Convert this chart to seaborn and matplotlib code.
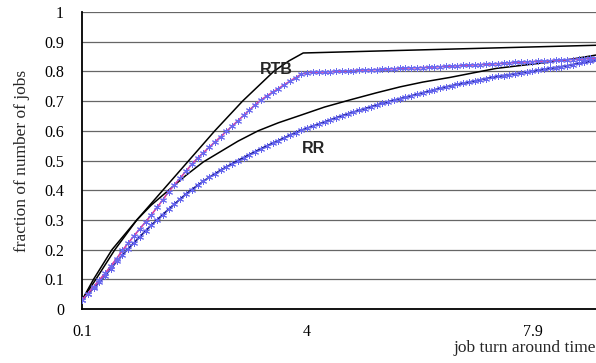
import matplotlib
matplotlib.use("Agg")
import matplotlib.pyplot as plt
import seaborn as sns

# job turn around time categories (step 0.1)
turnaround = [
    0.1, 0.2, 0.3, 0.4, 0.5, 0.6, 0.7, 0.8, 0.9, 1.0,
    1.1, 1.2, 1.3, 1.4, 1.5, 1.6, 1.7, 1.8, 1.9, 2.0,
    2.1, 2.2, 2.3, 2.4, 2.5, 2.6, 2.7, 2.8, 2.9, 3.0,
    3.1, 3.2, 3.3, 3.4, 3.5, 3.6, 3.7, 3.8, 3.9, 4.0,
    4.1, 4.2, 4.3, 4.4, 4.5, 4.6, 4.7, 4.8, 4.9, 5.0,
    5.1, 5.2, 5.3, 5.4, 5.5, 5.6, 5.7, 5.8, 5.9, 6.0,
    6.1, 6.2, 6.3, 6.4, 6.5, 6.6, 6.7, 6.8, 6.9, 7.0,
    7.1, 7.2, 7.3, 7.4, 7.5, 7.6, 7.7, 7.8, 7.9, 8.0,
    8.1, 8.2, 8.3, 8.4, 8.5, 8.6, 8.7, 8.8, 8.9, 9.0,
]

# RTB simulated (marked series)
rtb_sim = [
    0.030, 0.052, 0.075, 0.098, 0.120, 0.145, 0.170, 0.197, 0.222, 0.246,
    0.270, 0.293, 0.317, 0.342, 0.368, 0.395, 0.418, 0.441, 0.464, 0.487,
    0.508, 0.526, 0.544, 0.562, 0.580, 0.598, 0.616, 0.634, 0.652, 0.670,
    0.688, 0.704, 0.717, 0.730, 0.742, 0.755, 0.767, 0.779, 0.791, 0.796,
    0.797, 0.798, 0.798, 0.799, 0.800, 0.801, 0.802, 0.803, 0.804, 0.805,
    0.805, 0.806, 0.807, 0.808, 0.809, 0.810, 0.811, 0.812, 0.812, 0.813,
    0.814, 0.815, 0.816, 0.817, 0.818, 0.819, 0.820, 0.821, 0.822, 0.823,
    0.824, 0.825, 0.826, 0.828, 0.829, 0.830, 0.831, 0.832, 0.833, 0.834,
    0.835, 0.836, 0.837, 0.838, 0.839, 0.840, 0.841, 0.842, 0.844, 0.845,
]

# RR simulated (marked series)
rr_sim = [
    0.030, 0.050, 0.070, 0.090, 0.112, 0.136, 0.160, 0.182, 0.203, 0.223,
    0.243, 0.263, 0.282, 0.300, 0.318, 0.336, 0.353, 0.370, 0.387, 0.402,
    0.416, 0.430, 0.443, 0.455, 0.467, 0.478, 0.489, 0.500, 0.510, 0.520,
    0.530, 0.540, 0.549, 0.558, 0.567, 0.576, 0.585, 0.594, 0.602, 0.609,
    0.616, 0.623, 0.630, 0.637, 0.644, 0.651, 0.657, 0.663, 0.669, 0.675,
    0.681, 0.687, 0.692, 0.698, 0.703, 0.708, 0.713, 0.718, 0.723, 0.728,
    0.733, 0.738, 0.743, 0.748, 0.752, 0.756, 0.760, 0.764, 0.768, 0.772,
    0.776, 0.780, 0.783, 0.786, 0.789, 0.792, 0.795, 0.798, 0.801, 0.804,
    0.807, 0.810, 0.813, 0.816, 0.819, 0.823, 0.827, 0.830, 0.834, 0.838,
]

# black (model) curves
rtb_model_x = [0.1, 0.34, 0.67, 1.05, 1.5, 1.95, 2.4, 2.88, 3.15, 3.42, 3.68, 3.93, 9.0]
rtb_model_y = [0.03, 0.10, 0.20, 0.30, 0.40, 0.50, 0.60, 0.70, 0.75, 0.80, 0.835, 0.862, 0.888]
rr_model_x = [0.1, 0.3, 0.62, 1.05, 1.3, 1.6, 1.9, 2.2, 2.5, 2.8, 3.15, 3.5, 3.88,
              4.3, 4.74, 5.2, 5.61, 6.0, 6.48, 6.9, 7.27, 7.7, 8.14, 8.6, 9.0]
rr_model_y = [0.03, 0.10, 0.20, 0.30, 0.35, 0.40, 0.45, 0.495, 0.53, 0.565, 0.60, 0.627, 0.652,
              0.68, 0.704, 0.728, 0.748, 0.764, 0.78, 0.796, 0.81, 0.82, 0.83, 0.842, 0.855]

y_ticks = [0, 0.1, 0.2, 0.3, 0.4, 0.5, 0.6, 0.7, 0.8, 0.9, 1.0]
y_labels = ["0", "0.1", "0.2", "0.3", "0.4", "0.5", "0.6", "0.7", "0.8", "0.9", "1"]
x_ticks = [0.1, 2.05, 4.0, 5.95, 7.9]
x_labels = ["0.1", "", "4", "", "7.9"]

sns.set_style("white")
plt.rcParams["font.family"] = ["Liberation Serif", "DejaVu Serif"]

fig = plt.figure(figsize=(5.96, 3.63), dpi=100)
ax = fig.add_axes([82 / 596, 1 - 309 / 363, (596 - 82) / 596, (309 - 12) / 363])

# horizontal grid
for v in y_ticks[1:]:
    ax.axhline(v, color="#666666", lw=0.9, zorder=0)

star = (6, 2, 0)
sns.lineplot(x=rr_model_x, y=rr_model_y, ax=ax, color="black", lw=1.1, zorder=3)
sns.lineplot(x=rtb_model_x, y=rtb_model_y, ax=ax, color="black", lw=1.1, zorder=3)
sns.lineplot(x=turnaround, y=rr_sim, ax=ax, color="#1c1c8c", lw=1.3,
             marker=star, markersize=5, markeredgecolor="#6464ee",
             markeredgewidth=0.7, zorder=4)
sns.lineplot(x=turnaround, y=rtb_sim, ax=ax, color="#d040a8", lw=1.2,
             marker=star, markersize=5, markeredgecolor="#6a6af0",
             markeredgewidth=0.7, zorder=5)

ax.text(3.46, 0.805, "RTB", fontsize=11.5, fontweight="bold",
        family="Liberation Sans", ha="center", va="center", zorder=6)
ax.text(4.1, 0.542, "RR", fontsize=11.5, fontweight="bold",
        family="Liberation Sans", ha="center", va="center", zorder=6)

ax.set_xlim(0.1, 9.0)
ax.set_ylim(0, 1)
ax.set_yticks(y_ticks)
ax.set_yticklabels(y_labels)
ax.set_xticks(x_ticks)
ax.set_xticklabels(x_labels)
ax.tick_params(axis="both", direction="out", length=4, width=1, color="black",
               labelsize=11.5, colors="black")
ax.tick_params(axis="y", pad=9)
ax.tick_params(axis="x", pad=7)

for side in ["top", "right"]:
    ax.spines[side].set_visible(False)
for side in ["left", "bottom"]:
    ax.spines[side].set_color("black")
    ax.spines[side].set_linewidth(1.3)

ax.set_ylabel("fraction of number of jobs", fontsize=12.5, labelpad=10)
ax.set_xlabel("job turn around time", fontsize=12.5, loc="right", labelpad=0)

fig.savefig("out.png", dpi=100)
